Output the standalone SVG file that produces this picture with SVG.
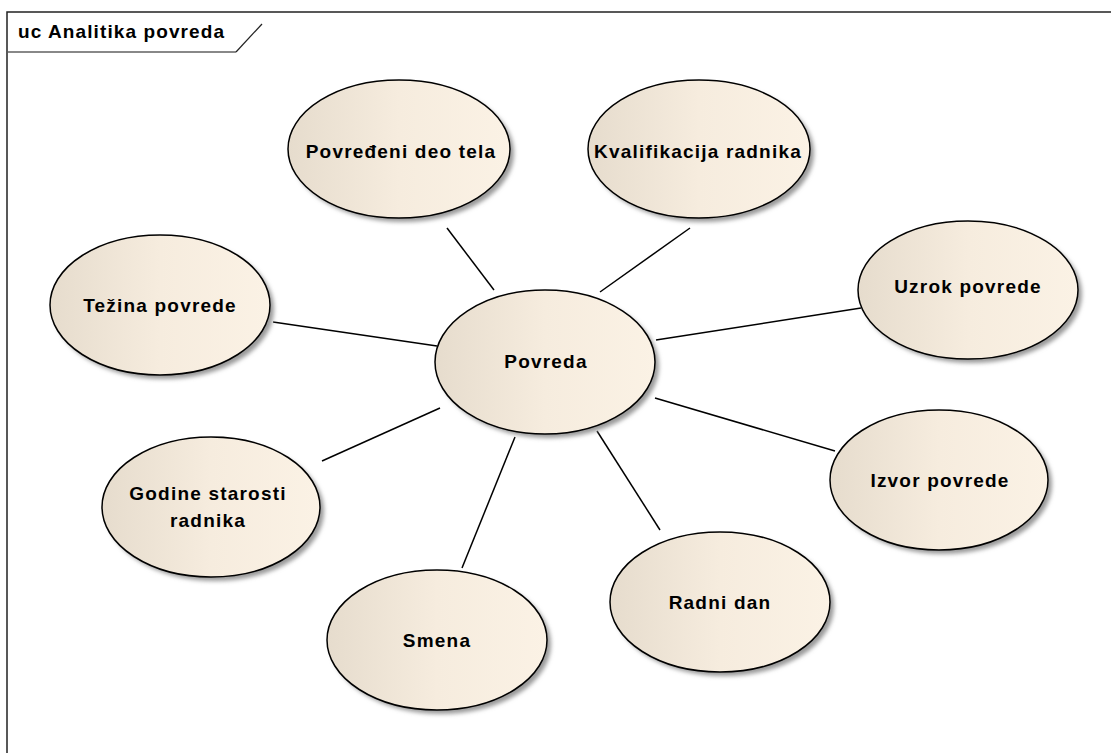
<svg xmlns="http://www.w3.org/2000/svg" width="1111" height="753" viewBox="0 0 1111 753">
<defs>
<linearGradient id="uc" x1="0" y1="0" x2="1" y2="0">
<stop offset="0" stop-color="#e6dccd"/>
<stop offset="0.5" stop-color="#f6ecde"/>
<stop offset="1" stop-color="#fbf2e5"/>
</linearGradient>
<filter id="sh" x="-10%" y="-10%" width="130%" height="130%">
<feGaussianBlur stdDeviation="2"/>
</filter>
</defs>
<style>
.frame{fill:none;stroke:#222;stroke-width:1.5}
.hdr{fill:none;stroke:#888;stroke-width:2}
.title{font-family:"Liberation Sans",Arial,sans-serif;font-weight:bold;font-size:19px;letter-spacing:1.1px;fill:#000}
.shadow{fill:#9a9a9a;filter:url(#sh)}
.uc{fill:url(#uc);stroke:#000;stroke-width:1.5}
.lbl{font-family:"Liberation Sans",Arial,sans-serif;font-weight:bold;font-size:19px;letter-spacing:1.2px;fill:#000;text-anchor:middle}
.conn line{stroke:#000;stroke-width:1.5}
</style>
<rect x="0" y="0" width="1111" height="753" fill="#fff"/>
<g id="frame">
<path class="frame" d="M7,753 V12 H1111"/>
<path class="hdr" d="M8,52 H236"/>
<path d="M236,52 L262,24" stroke="#222" stroke-width="1.2" fill="none"/>
<text class="title" x="18" y="38">uc Analitika povreda</text>
</g>
<g class="conn" id="connectors">
<line x1="447" y1="228" x2="494" y2="290"/>
<line x1="690" y1="228" x2="600" y2="292"/>
<line x1="273" y1="322" x2="437" y2="346"/>
<line x1="861" y1="308" x2="656" y2="340"/>
<line x1="322" y1="461" x2="440" y2="408"/>
<line x1="462" y1="568" x2="515" y2="437"/>
<line x1="660" y1="530" x2="597" y2="431"/>
<line x1="835" y1="451" x2="655" y2="398"/>
</g>
<g id="povredjeni">
<ellipse class="shadow" cx="403" cy="153" rx="111" ry="69"/>
<ellipse class="uc" cx="399" cy="149" rx="111" ry="69"/>
<text class="lbl" x="401" y="158">Povređeni deo tela</text>
</g>
<g id="kvalifikacija">
<ellipse class="shadow" cx="703" cy="153" rx="111" ry="69"/>
<ellipse class="uc" cx="699" cy="149" rx="111" ry="69"/>
<text class="lbl" x="698" y="158">Kvalifikacija radnika</text>
</g>
<g id="tezina">
<ellipse class="shadow" cx="164" cy="309" rx="110" ry="70"/>
<ellipse class="uc" cx="160" cy="305" rx="110" ry="70"/>
<text class="lbl" x="160" y="312">Težina povrede</text>
</g>
<g id="povreda">
<ellipse class="shadow" cx="549" cy="366" rx="110" ry="72"/>
<ellipse class="uc" cx="545" cy="362" rx="110" ry="72"/>
<text class="lbl" x="546" y="368">Povreda</text>
</g>
<g id="uzrok">
<ellipse class="shadow" cx="972" cy="294" rx="110" ry="69"/>
<ellipse class="uc" cx="968" cy="290" rx="110" ry="69"/>
<text class="lbl" x="968" y="293">Uzrok povrede</text>
</g>
<g id="godine">
<ellipse class="shadow" cx="215" cy="511" rx="109" ry="70"/>
<ellipse class="uc" cx="211" cy="507" rx="109" ry="70"/>
<text class="lbl" x="208" y="500">Godine starosti</text>
<text class="lbl" x="208" y="527">radnika</text>
</g>
<g id="izvor">
<ellipse class="shadow" cx="943" cy="484" rx="109" ry="70"/>
<ellipse class="uc" cx="939" cy="480" rx="109" ry="70"/>
<text class="lbl" x="940" y="487">Izvor povrede</text>
</g>
<g id="radni">
<ellipse class="shadow" cx="724" cy="606" rx="110" ry="70"/>
<ellipse class="uc" cx="720" cy="602" rx="110" ry="70"/>
<text class="lbl" x="720" y="609">Radni dan</text>
</g>
<g id="smena">
<ellipse class="shadow" cx="441" cy="644" rx="110" ry="70"/>
<ellipse class="uc" cx="437" cy="640" rx="110" ry="70"/>
<text class="lbl" x="437" y="647">Smena</text>
</g>
</svg>
